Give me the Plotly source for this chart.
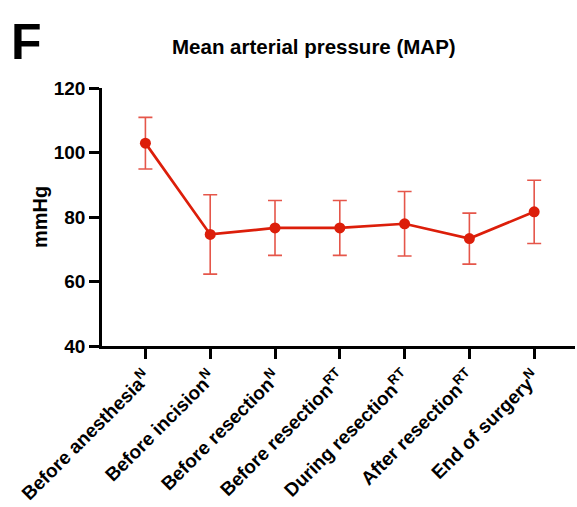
import plotly.graph_objects as go

categories = ["Before anesthesia<sup>N</sup>", "Before incision<sup>N</sup>", "Before resection<sup>N</sup>",
              "Before resection<sup>RT</sup>", "During resection<sup>RT</sup>", "After resection<sup>RT</sup>",
              "End of surgery<sup>N</sup>"]
mean_map = [102.9, 74.6, 76.6, 76.6, 77.9, 73.3, 81.6]
err_map = [8.0, 12.3, 8.5, 8.5, 10.0, 7.9, 9.8]
y_ticks = [40, 60, 80, 100, 120]

xpos = list(range(len(categories)))
FONT = "Liberation Sans, Arial, sans-serif"

W, H = 577, 507
ML, MR, MT, MB = 102, 2, 88, 161
pw = W - ML - MR
ph = H - MT - MB


def px_x(x):
    return (x - ML) / pw


def px_y(y):
    return 1 - (y - MT) / ph


fig = go.Figure()
fig.add_trace(go.Scatter(
    x=xpos, y=mean_map, mode="lines+markers",
    line=dict(color="#dc1e0a", width=2.7),
    marker=dict(color="#dc1e0a", size=11),
    error_y=dict(type="data", array=err_map, visible=True, color="#e5564a", thickness=1.6, width=7),
    showlegend=False, cliponaxis=False,
))

fig.update_layout(
    width=W, height=H,
    margin=dict(l=ML, r=MR, t=MT, b=MB),
    paper_bgcolor="white", plot_bgcolor="white",
    font=dict(family=FONT, color="black"),
    xaxis=dict(
        range=[-0.67, 6.63], tickvals=xpos, ticktext=categories, tickangle=-45,
        showline=True, linecolor="black", linewidth=2.5,
        ticks="outside", ticklen=10, tickwidth=2.5, tickcolor="black",
        tickfont=dict(size=19, weight="bold"),
        showgrid=False, zeroline=False, automargin=False,
    ),
    yaxis=dict(
        range=[40, 120], tickvals=y_ticks,
        showline=True, linecolor="black", linewidth=2.5,
        ticks="outside", ticklen=10, tickwidth=2.5, tickcolor="black",
        tickfont=dict(size=19, weight="bold"),
        showgrid=False, zeroline=False, automargin=False,
    ),
    annotations=[
        dict(text="<b>F</b>", x=px_x(9), y=px_y(12), xref="paper", yref="paper", showarrow=False,
             font=dict(size=50), xanchor="left", yanchor="top"),
        dict(text="<b>Mean arterial pressure (MAP)</b>", x=px_x(314), y=px_y(47), xref="paper", yref="paper",
             showarrow=False, font=dict(size=20.5), xanchor="center", yanchor="middle"),
        dict(text="<b>mmHg</b>", x=px_x(40), y=px_y(217), xref="paper", yref="paper", showarrow=False,
             font=dict(size=20), textangle=-90, xanchor="center", yanchor="middle"),
    ],
)

fig.write_html("out.html", config={"displayModeBar": False},
               post_script="document.body.style.margin='0';document.body.style.padding='0';"
                           "document.body.style.overflow='hidden';")
